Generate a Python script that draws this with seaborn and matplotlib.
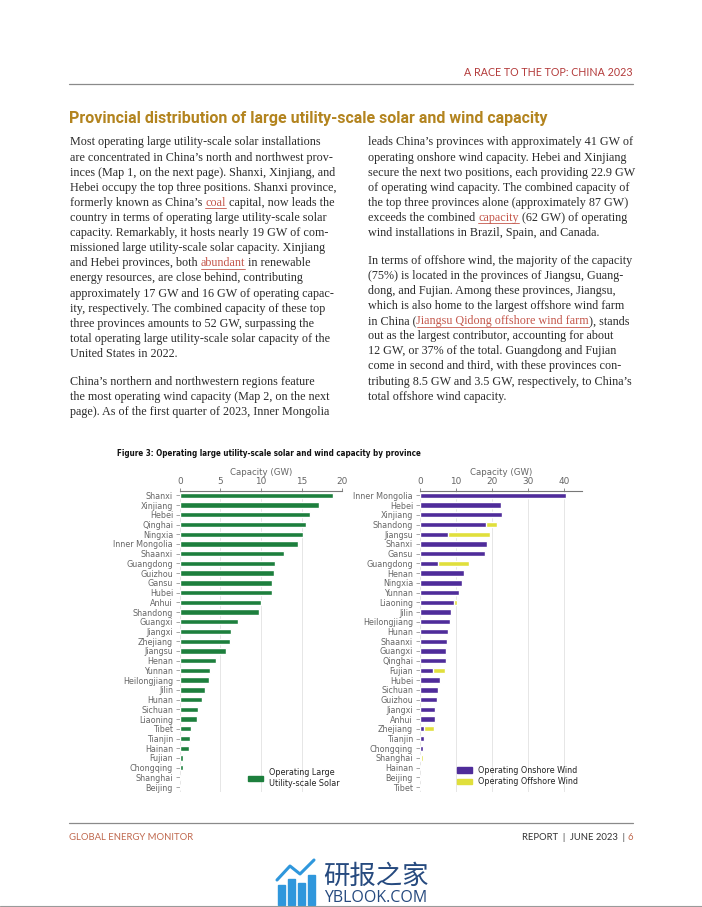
import numpy as np
import pandas as pd
import matplotlib
matplotlib.use("Agg")
import matplotlib.pyplot as plt
from matplotlib.lines import Line2D
from matplotlib.patches import Rectangle, Patch
from matplotlib import font_manager
import seaborn as sns

sns.set_style("whitegrid")
plt.rcParams['font.family'] = ['DejaVu Sans']

# ---- data ----
solar_prov = ["Shanxi", "Xinjiang", "Hebei", "Qinghai", "Ningxia", "Inner Mongolia",
              "Shaanxi", "Guangdong", "Guizhou", "Gansu", "Hubei", "Anhui", "Shandong",
              "Guangxi", "Jiangxi", "Zhejiang", "Jiangsu", "Henan", "Yunnan",
              "Heilongjiang", "Jilin", "Hunan", "Sichuan", "Liaoning", "Tibet",
              "Tianjin", "Hainan", "Fujian", "Chongqing", "Shanghai", "Beijing"]
solar_gw = [18.9, 17.2, 16.1, 15.5, 15.2, 14.6, 12.8, 11.7, 11.6, 11.4, 11.3, 10.0, 9.7,
            7.2, 6.3, 6.2, 5.7, 4.5, 3.7, 3.6, 3.1, 2.7, 2.2, 2.1, 1.4,
            1.2, 1.1, 0.4, 0.4, 0.1, 0.05]

wind_prov = ["Inner Mongolia", "Hebei", "Xinjiang", "Shandong", "Jiangsu", "Shanxi",
             "Gansu", "Guangdong", "Henan", "Ningxia", "Yunnan", "Liaoning", "Jilin",
             "Heilongjiang", "Hunan", "Shaanxi", "Guangxi", "Qinghai", "Fujian", "Hubei",
             "Sichuan", "Guizhou", "Jiangxi", "Anhui", "Zhejiang", "Tianjin", "Chongqing",
             "Shanghai", "Hainan", "Beijing", "Tibet"]
onshore_gw = [40.5, 22.6, 22.8, 18.4, 7.8, 18.6, 18.2, 5.0, 12.2, 11.7, 10.8, 9.5, 8.6,
              8.3, 7.8, 7.4, 7.1, 7.1, 3.5, 5.6, 4.9, 4.7, 4.2, 4.2, 1.1, 1.1, 0.9,
              0.4, 0.1, 0.2, 0.1]
offshore_gw = [0, 0, 0, 3.0, 11.6, 0, 0, 8.5, 0, 0, 0, 0.7, 0,
               0, 0, 0, 0, 0, 3.5, 0, 0, 0, 0, 0, 2.8, 0, 0,
               0.5, 0, 0, 0]

solar_df = pd.DataFrame({"Province": solar_prov, "Solar": solar_gw})
wind_df = pd.DataFrame({"Province": wind_prov, "Onshore": onshore_gw, "Offshore": offshore_gw})
wind_df["Total"] = wind_df["Onshore"] + wind_df["Offshore"]

GREEN = "#1d7f3d"
PURPLE = "#4f2c9a"
YELLOW = "#e0df3c"
GRAY_TXT = "#666666"
BODY = "#2b2b2b"
LINK = "#c4574b"

W, H = 702, 907
fig = plt.figure(figsize=(W / 100, H / 100), dpi=100)
r = fig.canvas.get_renderer()


def fx(x):
    return x / W


def fy(y):
    return 1 - y / H


def width_of(s, **kw):
    t = fig.text(0, 0, s, **kw)
    w = t.get_window_extent(r).width
    t.remove()
    return w


def fit_size(s, target, **kw):
    return 10 * target / width_of(s, fontsize=10, **kw)


SERIF = "Liberation Serif"


def put_line(x, y, segs, size):
    for s, col, ul in segs:
        fig.text(fx(x), fy(y), s, fontsize=size, family=SERIF, color=col, va="center", ha="left")
        w = width_of(s + "|", fontsize=size, family=SERIF) - width_of("|", fontsize=size, family=SERIF)
        if ul:
            wl = width_of(s.rstrip(), fontsize=size, family=SERIF)
            fig.add_artist(Line2D([fx(x), fx(x + wl)], [fy(y + 5.5)] * 2, color=col, lw=0.6))
        x += w


# ---- header ----
hs = fit_size("A RACE TO THE TOP: CHINA 2023", 166, family="Lato")
fig.text(fx(633), fy(73), "A RACE TO THE TOP: CHINA 2023", ha="right", va="center",
         fontsize=hs, family="Lato", color="#b33a3a")
fig.add_artist(Line2D([fx(69), fx(633)], [fy(84)] * 2, color="#8a8a8a", lw=0.9))

title = "Provincial distribution of large utility-scale solar and wind capacity"
ts = fit_size(title, 481, family="Roboto", fontweight="bold")
fig.text(fx(69), fy(119), title, ha="left", va="center", fontsize=ts, family="Roboto",
         fontweight="bold", color="#b3841f")

# ---- body text ----
left_lines = [
    [("Most operating large utility-scale solar installations", BODY, False)],
    [("are concentrated in China’s north and northwest prov-", BODY, False)],
    [("inces (Map 1, on the next page). Shanxi, Xinjiang, and", BODY, False)],
    [("Hebei occupy the top three positions. Shanxi province,", BODY, False)],
    [("formerly known as China’s ", BODY, False), ("coal", LINK, True), (" capital, now leads the", BODY, False)],
    [("country in terms of operating large utility-scale solar", BODY, False)],
    [("capacity. Remarkably, it hosts nearly 19 GW of com-", BODY, False)],
    [("missioned large utility-scale solar capacity. Xinjiang", BODY, False)],
    [("and Hebei provinces, both ", BODY, False), ("abundant", LINK, True), (" in renewable", BODY, False)],
    [("energy resources, are close behind, contributing", BODY, False)],
    [("approximately 17 GW and 16 GW of operating capac-", BODY, False)],
    [("ity, respectively. The combined capacity of these top", BODY, False)],
    [("three provinces amounts to 52 GW, surpassing the", BODY, False)],
    [("total operating large utility-scale solar capacity of the", BODY, False)],
    [("United States in 2022.", BODY, False)],
    None,
    [("China’s northern and northwestern regions feature", BODY, False)],
    [("the most operating wind capacity (Map 2, on the next", BODY, False)],
    [("page). As of the first quarter of 2023, Inner Mongolia", BODY, False)],
]
right_lines = [
    [("leads China’s provinces with approximately 41 GW of", BODY, False)],
    [("operating onshore wind capacity. Hebei and Xinjiang", BODY, False)],
    [("secure the next two positions, each providing 22.9 GW", BODY, False)],
    [("of operating wind capacity. The combined capacity of", BODY, False)],
    [("the top three provinces alone (approximately 87 GW)", BODY, False)],
    [("exceeds the combined ", BODY, False), ("capacity", LINK, True), (" (62 GW) of operating", BODY, False)],
    [("wind installations in Brazil, Spain, and Canada.", BODY, False)],
    None,
    [("In terms of offshore wind, the majority of the capacity", BODY, False)],
    [("(75%) is located in the provinces of Jiangsu, Guang-", BODY, False)],
    [("dong, and Fujian. Among these provinces, Jiangsu,", BODY, False)],
    [("which is also home to the largest offshore wind farm", BODY, False)],
    [("in China (", BODY, False), ("Jiangsu Qidong offshore wind farm", LINK, True), ("), stands", BODY, False)],
    [("out as the largest contributor, accounting for about", BODY, False)],
    [("12 GW, or 37% of the total. Guangdong and Fujian", BODY, False)],
    [("come in second and third, with these provinces con-", BODY, False)],
    [("tributing 8.5 GW and 3.5 GW, respectively, to China’s", BODY, False)],
    [("total offshore wind capacity.", BODY, False)],
]

bs = fit_size("Most operating large utility-scale solar installations", 250, family=SERIF)
for col_x, lines in ((70, left_lines), (368, right_lines)):
    y = 142.5
    for ln in lines:
        if ln is None:
            y += 12.5
            continue
        put_line(col_x, y, ln, bs)
        y += 15.1

# ---- figure caption ----
cap = "Figure 3: Operating large utility-scale solar and wind capacity by province"
cap_kw = dict(family="DejaVu Sans", fontweight="bold", fontstretch="condensed")
cs = fit_size(cap, 300, **cap_kw)
fig.text(fx(117), fy(453), cap, ha="left", va="center", fontsize=cs, color="#111111", **cap_kw)

# ---- charts ----
top, bot = 490.5, 792
ax1 = fig.add_axes([fx(180), fy(bot), (342 - 180) / W, (bot - top) / H])
ax2 = fig.add_axes([fx(420), fy(bot), (581.7 - 420) / W, (bot - top) / H])

sns.barplot(data=solar_df, y="Province", x="Solar", orient="h", color=GREEN,
            width=0.55, ax=ax1, saturation=1)
sns.barplot(data=wind_df, y="Province", x="Total", orient="h", color=YELLOW,
            width=0.55, ax=ax2, saturation=1)
sns.barplot(data=wind_df, y="Province", x="Onshore", orient="h", color=PURPLE,
            width=0.55, ax=ax2, saturation=1)

ax1.set_xlim(0, 20)
ax1.set_xticks([0, 5, 10, 15, 20])
ax2.set_xlim(0, 45)
ax2.set_xticks([0, 10, 20, 30, 40])

for ax in (ax1, ax2):
    ax.xaxis.tick_top()
    ax.xaxis.set_label_position("top")
    ax.set_xlabel("Capacity (GW)", fontsize=6.2, color=GRAY_TXT, labelpad=1.5)
    ax.set_ylabel("")
    ax.tick_params(axis="x", labelsize=6.4, labelcolor=GRAY_TXT, length=2, pad=1,
                   color="#777777", width=0.6)
    ax.tick_params(axis="y", labelsize=5.8, labelcolor=GRAY_TXT, length=3, pad=2,
                   color="#999999", width=0.6, left=True)
    ax.grid(axis="x", color="#e6e6e6", lw=0.7)
    ax.grid(axis="y", visible=False)
    for s in ("left", "right", "bottom"):
        ax.spines[s].set_visible(False)
    ax.spines["top"].set_color("#777777")
    ax.spines["top"].set_linewidth(0.8)
    ax.set_axisbelow(True)
    ax.set_facecolor("white")

ax1.legend(handles=[Patch(color=GREEN, label="Operating Large\nUtility-scale Solar")],
           loc="lower right", bbox_to_anchor=(1.032, -0.01), frameon=False,
           fontsize=5.8, handlelength=1.9, handleheight=0.6, handletextpad=0.8,
           labelspacing=0.2, labelcolor="#222222")
ax2.legend(handles=[Patch(color=PURPLE, label="Operating Onshore Wind"),
                    Patch(color=YELLOW, label="Operating Offshore Wind")],
           loc="lower right", bbox_to_anchor=(1.025, -0.005), frameon=False,
           fontsize=5.8, handlelength=1.9, handleheight=0.6, handletextpad=0.8,
           labelspacing=0.3, labelcolor="#222222")

# ---- footer ----
fig.add_artist(Line2D([fx(69), fx(633)], [fy(823)] * 2, color="#8a8a8a", lw=0.9))
fs = fit_size("GLOBAL ENERGY MONITOR", 123, family="Lato")
fig.text(fx(69), fy(837), "GLOBAL ENERGY MONITOR", ha="left", va="center", fontsize=fs,
         family="Lato", color="#c0694f")
fig.text(fx(633), fy(837), "6", ha="right", va="center", fontsize=fs, family="Lato",
         color="#c0694f")
fig.text(fx(625), fy(837), "REPORT  |  JUNE 2023  |", ha="right", va="center",
         fontsize=fs, family="Lato", color="#333333")

# watermark logo
for bx, bh in [(278, 20), (288, 26), (298, 22), (308, 30)]:
    fig.add_artist(Rectangle((fx(bx), fy(905)), 7 / W, bh / H, color="#2f97dc"))
fig.add_artist(Line2D([fx(277), fx(290), fx(300), fx(314)], [fy(880), fy(866), fy(874), fy(860)],
                      color="#2f97dc", lw=2.2))
fig.text(fx(376), fy(876), "研报之家", ha="center", va="center", fontsize=19,
         family=["Noto Sans CJK SC", "DejaVu Sans"], color="#264a7f")
fig.text(fx(376), fy(898), "YBLOOK.COM", ha="center", va="center", fontsize=11.5,
         family="Open Sans", color="#264a7f")
fig.add_artist(Line2D([0, 1], [fy(905.5)] * 2, color="#9a9a9a", lw=0.8))

fig.savefig("out.png", dpi=100)
